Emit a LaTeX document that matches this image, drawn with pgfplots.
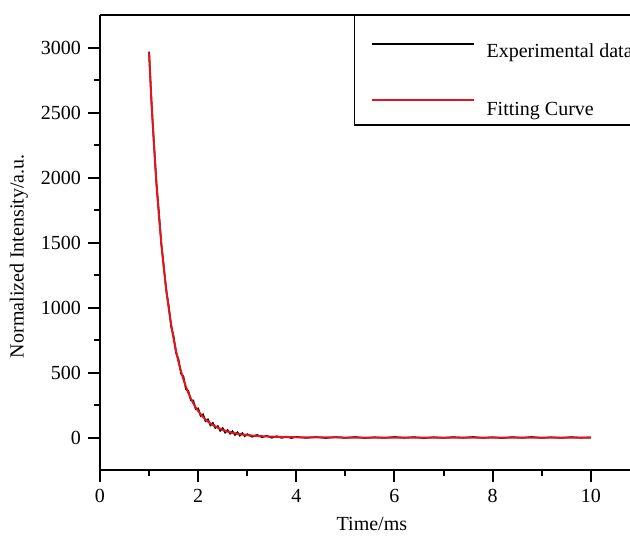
\documentclass[border=0pt]{standalone}
\usepackage{pgfplots}
\pgfplotsset{compat=1.18}
\usepackage{fontspec}
\setmainfont{Liberation Serif}
\definecolor{fitred}{HTML}{E3141B}
\newcommand{\lblfont}{\fontsize{10}{12}\selectfont}

\begin{document}
\begin{tikzpicture}
\begin{axis}[
  scale only axis, width=265pt, height=227.5pt,
  xmin=0, xmax=10.8, ymin=-250, ymax=3250,
  axis x line=box, axis y line=left,
  separate axis lines,
  axis line style={-, line width=1pt},
  every outer x axis line/.append style={-, line width=1pt},
  every outer y axis line/.append style={-, line width=1pt},
  xtick={0,2,...,10}, minor xtick={1,3,...,9},
  ytick={0,500,...,3000}, minor ytick={250,750,...,2750},
  xtick pos=left, ytick pos=left,
  tick align=outside, major tick length=6pt, minor tick length=3pt,
  tick style={line width=1pt, black},
  tick label style={font=\lblfont},
  /pgf/number format/assume math mode=true,
  /pgf/number format/1000 sep={},
  label style={font=\lblfont},
  xlabel={Time/ms}, ylabel={Normalized Intensity/a.u.},
  xlabel style={at={(rel axis cs:0.513,-0.119)}, anchor=center},
  ylabel style={at={(rel axis cs:-0.153,0.47)}, anchor=center},
  legend style={at={(rel axis cs:0.479,1)}, anchor=north west,
    draw=black, line width=0.7pt, font=\lblfont,
    inner xsep=8pt, inner ysep=1pt, row sep=17pt,
    nodes={inner xsep=6pt}},
  legend cell align=left,
]
% experimental decay
\addplot[black, line width=0.8pt,
  legend image code/.code={\draw[black, line width=1pt] (0pt,-1.5pt) -- (51pt,-1.5pt);}]
  coordinates {
  (1.00,2968) (1.05,2566) (1.10,2262) (1.15,1948) (1.20,1736) (1.25,1484)
  (1.30,1318) (1.35,1130) (1.40,1014) (1.45,850) (1.50,780) (1.55,650)
  (1.60,600) (1.65,492) (1.70,470) (1.75,372) (1.80,360) (1.85,286)
  (1.90,286) (1.95,218) (2.00,224) (2.05,166) (2.10,178) (2.15,126)
  (2.20,140) (2.25,94) (2.30,112) (2.35,74) (2.40,88) (2.45,52)
  (2.50,72) (2.55,38) (2.60,58) (2.65,30) (2.70,48) (2.75,20)
  (2.80,40) (2.85,14) (2.90,33) (2.95,10) (3.00,26) (3.10,6)
  (3.20,20) (3.30,2) (3.40,13) (3.50,-2) (3.60,10) (3.70,-3)
  (3.80,7) (3.90,-4) (4.00,5) (4.20,-3) (4.40,4) (4.60,-4)
  (4.80,3) (5.00,-3) (5.20,4) (5.40,-4) (5.60,2) (5.80,-3)
  (6.00,4) (6.20,-2) (6.40,3) (6.60,-4) (6.80,2) (7.00,-3)
  (7.20,3) (7.40,-2) (7.60,4) (7.80,-3) (8.00,2) (8.20,-4)
  (8.40,3) (8.60,-2) (8.80,4) (9.00,-3) (9.20,2) (9.40,-3)
  (9.60,3) (9.80,-2) (10.00,1)};
\addlegendentry{\rule{0pt}{18pt}Experimental data}
% fit
\addplot[fitred, line width=1pt,
  legend image code/.code={\draw[fitred, line width=1pt] (0pt,5.5pt) -- (51pt,5.5pt);}]
  coordinates {
  (1.00,2960) (1.05,2580) (1.10,2249) (1.15,1961) (1.20,1711) (1.25,1493)
  (1.30,1304) (1.35,1138) (1.40,995) (1.45,869) (1.50,760) (1.55,665)
  (1.60,582) (1.65,510) (1.70,447) (1.75,391) (1.80,343) (1.85,301)
  (1.90,264) (1.95,232) (2.00,204) (2.05,180) (2.10,158) (2.15,139)
  (2.20,123) (2.25,108) (2.30,96) (2.35,85) (2.40,75) (2.45,66)
  (2.50,59) (2.60,46) (2.70,36) (2.80,29) (2.90,23) (3.00,18)
  (3.20,12) (3.40,8) (3.60,5) (3.80,3) (4.00,2) (4.50,1)
  (5.00,0) (6.00,0) (7.00,0) (8.00,0) (9.00,0) (10.00,0)};
\addlegendentry{Fitting Curve}
\end{axis}
\pgfresetboundingbox
\path[use as bounding box] (-50pt,-34pt) rectangle (265pt,235pt);
\end{tikzpicture}
\end{document}
